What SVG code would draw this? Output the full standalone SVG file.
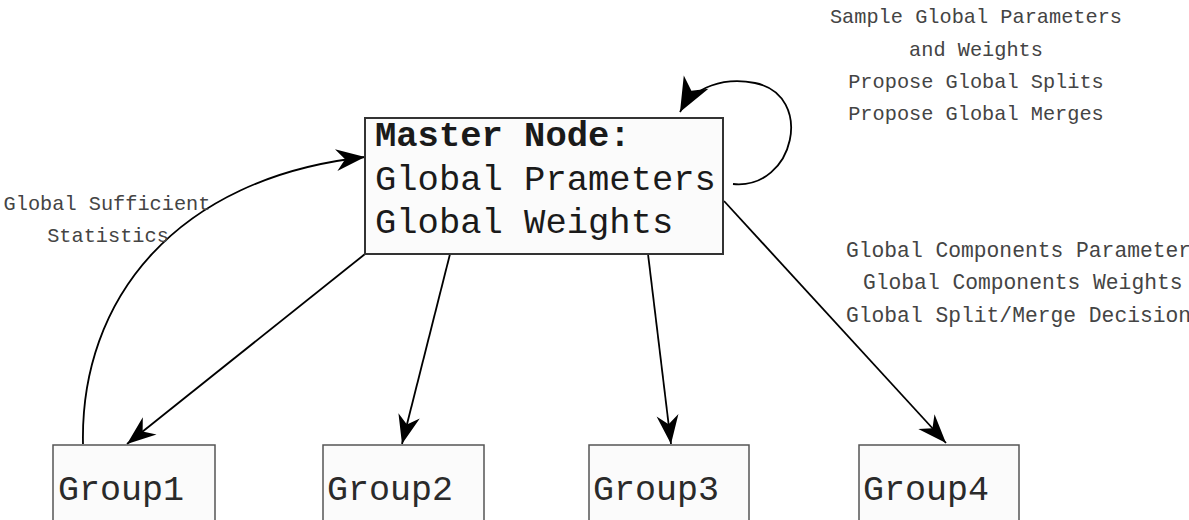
<svg xmlns="http://www.w3.org/2000/svg" width="1189" height="520" viewBox="0 0 1189 520">
  <style>
    .box { fill: #fbfbfb; stroke: #555; stroke-width: 1.5; }
    .master { fill: #fbfbfb; stroke: #333; stroke-width: 2; }
    .mono { font-family: "Liberation Mono", "Courier New", monospace; }
    .big { font-size: 35.5px; fill: #1a1a1a; }
    .grp { font-size: 35px; fill: #2a2a2a; }
    .lbl { font-size: 20.3px; fill: #444; }
    .lbl2 { font-size: 21.3px; fill: #444; }
    .edge { fill: none; stroke: #000; stroke-width: 1.8; }
  </style>
  <defs>
    <marker id="arrow" markerUnits="userSpaceOnUse" viewBox="-32 -14 34 28" refX="0" refY="0" markerWidth="34" markerHeight="28" orient="auto">
      <path d="M0,0 L-29,-11 L-20,0 L-29,11 Z" fill="#000"/>
    </marker>
    <marker id="arrowBig" markerUnits="userSpaceOnUse" viewBox="-38 -18 40 36" refX="0" refY="0" markerWidth="40" markerHeight="36" orient="auto">
      <path d="M0,0 L-34,-14 L-24,0 L-34,14 Z" fill="#000"/>
    </marker>
  </defs>

  <rect width="1189" height="520" fill="#fff"/>

  <g id="connectors">
    <!-- self loop on the master node -->
    <path class="edge" d="M733,184 C795,190 815,95 755,83 C725,77 694,86 680,112" marker-end="url(#arrowBig)"/>
    <!-- Group1 statistics back to master -->
    <path class="edge" d="M83,444 C80,300 175,178 365,157" marker-end="url(#arrow)"/>
    <!-- master to groups -->
    <line class="edge" x1="365" y1="254" x2="127" y2="444" marker-end="url(#arrow)"/>
    <line class="edge" x1="450" y1="254" x2="402" y2="444" marker-end="url(#arrow)"/>
    <line class="edge" x1="648" y1="254" x2="671" y2="444" marker-end="url(#arrow)"/>
    <line class="edge" x1="724" y1="201" x2="946" y2="443" marker-end="url(#arrow)"/>
  </g>

  <g id="master-node">
    <rect class="master" x="365" y="118" width="358" height="136"/>
    <text class="mono big" x="375" y="146" font-weight="bold">Master Node:</text>
    <text class="mono big" x="375" y="190">Global Prameters</text>
    <text class="mono big" x="375" y="233">Global Weights</text>
  </g>

  <g id="group1">
    <rect class="box" x="53" y="445" width="162" height="90"/>
    <text class="mono grp" x="58" y="500">Group1</text>
  </g>
  <g id="group2">
    <rect class="box" x="323" y="445" width="161" height="90"/>
    <text class="mono grp" x="327" y="500">Group2</text>
  </g>
  <g id="group3">
    <rect class="box" x="589" y="445" width="160" height="90"/>
    <text class="mono grp" x="593" y="500">Group3</text>
  </g>
  <g id="group4">
    <rect class="box" x="859" y="445" width="160" height="90"/>
    <text class="mono grp" x="863" y="500">Group4</text>
  </g>

  <g id="labels">
    <text class="mono lbl" text-anchor="middle" x="976" y="23">Sample Global Parameters</text>
    <text class="mono lbl" text-anchor="middle" x="976" y="55.5">and Weights</text>
    <text class="mono lbl" text-anchor="middle" x="976" y="88">Propose Global Splits</text>
    <text class="mono lbl" text-anchor="middle" x="976" y="120">Propose Global Merges</text>

    <text class="mono lbl" text-anchor="middle" x="107" y="210">Global Sufficient</text>
    <text class="mono lbl" text-anchor="middle" x="108" y="242">Statistics</text>

    <text class="mono lbl2" x="846" y="257">Global Components Parameter</text>
    <text class="mono lbl2" x="863" y="289">Global Components Weights</text>
    <text class="mono lbl2" x="846" y="322">Global Split/Merge Decision</text>
  </g>
</svg>
